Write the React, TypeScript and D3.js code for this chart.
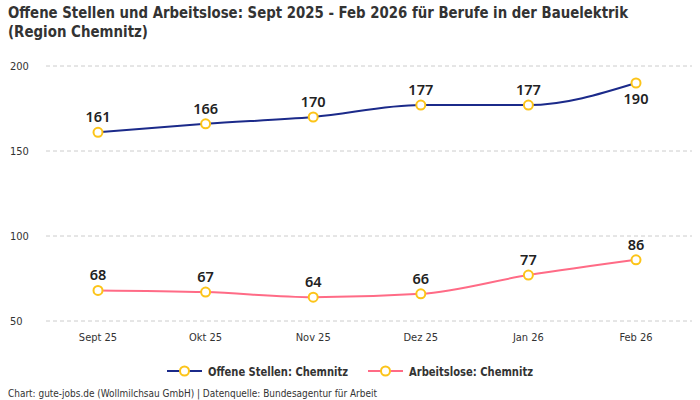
import React from "react";
import * as d3 from "d3";

const months = ["Sept 25", "Okt 25", "Nov 25", "Dez 25", "Jan 26", "Feb 26"];
const offeneStellen = [161, 166, 170, 177, 177, 190];
const arbeitslose = [68, 67, 64, 66, 77, 86];
const yTicks = [50, 100, 150, 200];
const seriesNames = ["Offene Stellen: Chemnitz", "Arbeitslose: Chemnitz"];
const seriesColors = ["#1b2a8a", "#ff6b86"];

const W = 700;
const H = 400;
const condensed = "'DejaVu Sans Condensed', 'Roboto', sans-serif";
const sans = "'Noto Sans', 'Open Sans', sans-serif";

export default function App() {
  const x = d3.scalePoint<string>().domain(months).range([98, 636]);
  const y = d3.scaleLinear().domain([50, 200]).range([321, 66]);
  const line = d3
    .line<number>()
    .x((_, i) => x(months[i]) as number)
    .y((d) => y(d))
    .curve(d3.curveMonotoneX);

  const series = [offeneStellen, arbeitslose];
  const legendX = [167, 368];
  const legendLen = [140, 124];

  return (
    <svg
      width={W}
      height={H}
      style={{ position: "absolute", left: 0, top: 0, background: "#fff" }}
    >
      <text
        x={8}
        y={18}
        fontFamily={condensed}
        fontWeight="bold"
        fontSize={16.5}
        fill="#333"
        textLength={620}
        lengthAdjust="spacingAndGlyphs"
      >
        Offene Stellen und Arbeitslose: Sept 2025 - Feb 2026 für Berufe in der Bauelektrik
      </text>
      <text
        x={8}
        y={37}
        fontFamily={condensed}
        fontWeight="bold"
        fontSize={16.5}
        fill="#333"
        textLength={140}
        lengthAdjust="spacingAndGlyphs"
      >
        (Region Chemnitz)
      </text>

      {yTicks.map((t) => (
        <g key={t}>
          <line
            x1={46}
            x2={692}
            y1={y(t)}
            y2={y(t)}
            stroke="#ccc"
            strokeDasharray="4,3"
          />
          <text x={10} y={y(t) + 4} fontFamily={condensed} fontSize={11} fill="#333">
            {t}
          </text>
        </g>
      ))}

      {months.map((m) => (
        <text
          key={m}
          x={x(m)}
          y={341}
          textAnchor="middle"
          fontFamily={condensed}
          fontSize={11}
          fill="#333"
        >
          {m}
        </text>
      ))}

      {series.map((s, si) => (
        <g key={si}>
          <path d={line(s) || ""} fill="none" stroke={seriesColors[si]} strokeWidth={2} />
          {s.map((v, i) => {
            const below = si === 0 && i === s.length - 1;
            return (
              <g key={i}>
                <circle
                  cx={x(months[i])}
                  cy={y(v)}
                  r={4.5}
                  fill="#fff"
                  stroke="#fcc419"
                  strokeWidth={2}
                />
                <text
                  x={x(months[i])}
                  y={below ? y(v) + 21 : y(v) - 10}
                  textAnchor="middle"
                  fontFamily={sans}
                  fontWeight={600}
                  fontSize={14.5}
                  fill="#222"
                >
                  {v}
                </text>
              </g>
            );
          })}
        </g>
      ))}

      {seriesNames.map((n, i) => {
        const lx = legendX[i];
        return (
          <g key={n}>
            <line x1={lx} x2={lx + 35} y1={371} y2={371} stroke={seriesColors[i]} strokeWidth={2} />
            <circle cx={lx + 17.5} cy={371} r={4.5} fill="#fff" stroke="#fcc419" strokeWidth={2} />
            <text
              x={lx + 41}
              y={375.5}
              fontFamily={condensed}
              fontWeight="bold"
              fontSize={13}
              fill="#333"
              textLength={legendLen[i]}
              lengthAdjust="spacingAndGlyphs"
            >
              {n}
            </text>
          </g>
        );
      })}

      <text
        x={8}
        y={397}
        fontFamily={condensed}
        fontSize={11}
        fill="#333"
        textLength={369}
        lengthAdjust="spacingAndGlyphs"
      >
        Chart: gute-jobs.de (Wollmilchsau GmbH) | Datenquelle: Bundesagentur für Arbeit
      </text>
    </svg>
  );
}
